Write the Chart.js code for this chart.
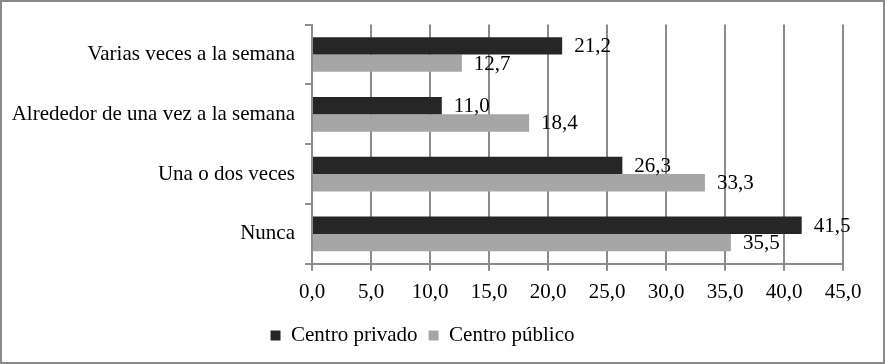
<!DOCTYPE html>
<html>
<head>
<meta charset="utf-8">
<script src="https://cdn.jsdelivr.net/npm/chart.js@4"></script>
<style>
  body { margin: 0; background: #fff; }
  #wrap {
    position: relative;
    width: 885px;
    height: 364px;
    box-sizing: border-box;
    border: 2px solid #8a8a8a;
    background: #fff;
  }
</style>
</head>
<body>
<div id="wrap"><canvas id="chart-frecuencia"></canvas></div>
<script>
// categories (top to bottom)
var categorias = ['Varias veces a la semana', 'Alrededor de una vez a la semana', 'Una o dos veces', 'Nunca'];
// percentages
var centroPrivado = [21.2, 11.0, 26.3, 41.5];
var centroPublico = [12.7, 18.4, 33.3, 35.5];

var fuente = '"Liberation Serif", "Times New Roman", serif';

function coma(v) {
  return Number(v).toFixed(1).replace('.', ',');
}

// draws the value next to each bar
var etiquetasValor = {
  id: 'etiquetasValor',
  afterDatasetsDraw: function(chart) {
    var ctx = chart.ctx;
    ctx.save();
    ctx.font = '21px ' + fuente;
    ctx.fillStyle = '#000';
    ctx.textBaseline = 'middle';
    ctx.textAlign = 'left';
    chart.data.datasets.forEach(function(ds, i) {
      var meta = chart.getDatasetMeta(i);
      meta.data.forEach(function(bar, j) {
        ctx.fillText(coma(ds.data[j]), bar.x + 12, bar.y + 1);
      });
    });
    ctx.restore();
  }
};

var myChart = new Chart(document.getElementById('chart-frecuencia').getContext('2d'), {
  type: 'bar',
  data: {
    labels: categorias,
    datasets: [{
      label: 'Centro privado',
      data: centroPrivado,
      backgroundColor: '#262626',
      borderWidth: 0,
      categoryPercentage: 0.58,
      barPercentage: 1.0
    }, {
      label: 'Centro público',
      data: centroPublico,
      backgroundColor: '#a6a6a6',
      borderWidth: 0,
      categoryPercentage: 0.58,
      barPercentage: 1.0
    }]
  },
  options: {
    indexAxis: 'y',
    responsive: true,
    maintainAspectRatio: false,
    animation: false,
    layout: {
      padding: { top: 22, right: 40, bottom: 6, left: 0 }
    },
    scales: {
      x: {
        min: 0,
        max: 45,
        ticks: {
          stepSize: 5,
          color: '#000',
          padding: 9,
          maxRotation: 0,
          font: { family: fuente, size: 21 },
          callback: function(v) { return coma(v); }
        },
        grid: {
          color: '#8c8c8c',
          lineWidth: 2,
          drawTicks: true,
          tickLength: 7
        },
        border: { color: '#8c8c8c', width: 2 }
      },
      y: {
        afterFit: function(scale) { scale.width = 310; },
        ticks: {
          color: '#000',
          padding: 10,
          font: { family: fuente, size: 21 }
        },
        grid: {
          color: '#8c8c8c',
          lineWidth: 2,
          drawOnChartArea: false,
          drawTicks: true,
          tickLength: 7
        },
        border: { color: '#8c8c8c', width: 2 }
      }
    },
    plugins: {
      legend: {
        display: true,
        position: 'bottom',
        labels: {
          color: '#000',
          boxWidth: 10,
          boxHeight: 10,
          padding: 11,
          font: { family: fuente, size: 21 }
        }
      },
      tooltip: { enabled: false }
    }
  },
  plugins: [etiquetasValor]
});
</script>
</body>
</html>
